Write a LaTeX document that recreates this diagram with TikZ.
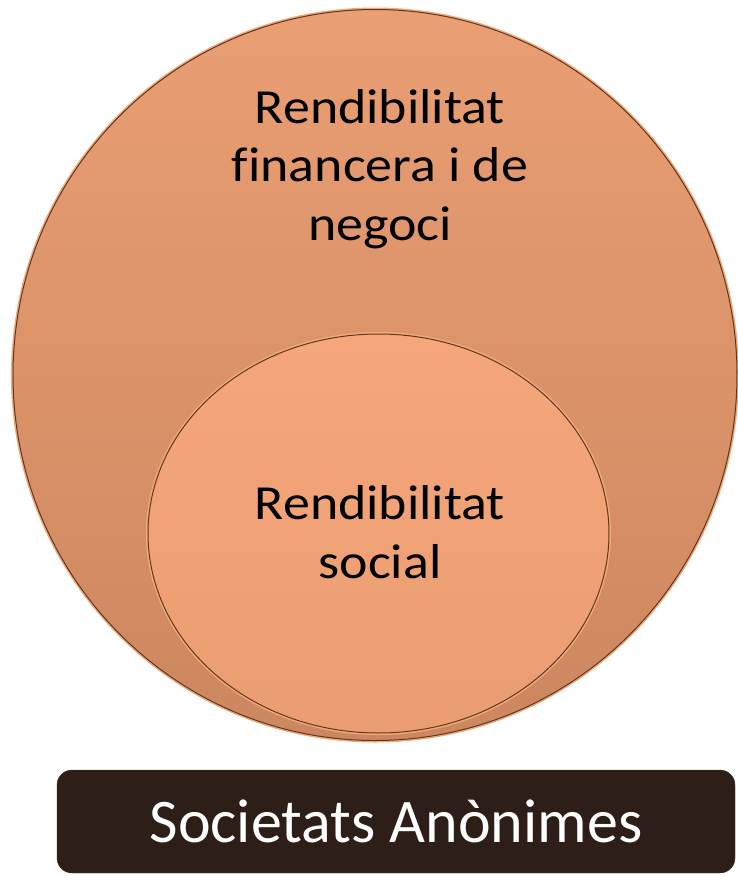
\documentclass[tikz,border=0pt]{standalone}
\usepackage{fontspec}
\newfontfamily\circfont[FakeStretch=1.1,Ligatures=NoCommon]{Carlito}
\newfontfamily\boxfont[Ligatures=NoCommon]{Carlito}
\usetikzlibrary{shapes.geometric,positioning}

\definecolor{outertop}{HTML}{EA9E73}
\definecolor{outerbot}{HTML}{CC8760}
\definecolor{innertop}{HTML}{F5A77B}
\definecolor{innerbot}{HTML}{EA9D71}
\definecolor{rimline}{HTML}{5E3722}
\definecolor{rimglow}{HTML}{F3A878}
\definecolor{boxfill}{HTML}{2D1F17}

\begin{document}
\begin{tikzpicture}[x=1pt,y=1pt,
  ring/.style={ellipse,inner sep=0pt,draw=rimline,line width=1pt,
    preaction={draw=rimglow,line width=4pt}},
  circtext/.style={align=center,font=\circfont\fontsize{49}{58.5}\selectfont,text=black},
  namebox/.style={rectangle,rounded corners=15pt,fill=boxfill,draw=boxfill!80!brown,
    text=white,font=\boxfont\fontsize{62}{70}\selectfont,inner sep=0pt}]

\useasboundingbox (0,0) rectangle (738,-876);

% the two circles
\node[ring,top color=outertop,bottom color=outerbot,
  minimum width=724pt,minimum height=731pt] (outer) at (375,-375) {};
\node[ring,top color=innertop,bottom color=innerbot,
  minimum width=461pt,minimum height=399pt] (inner) at (378.5,-533.5) {};

% base = last line
\node[circtext,anchor=base] (fin) at (380,-240) {Rendibilitat\\financera i de\\negoci};
\node[circtext,anchor=base] (soc) at (380,-578) {Rendibilitat\\social};

% label underneath
\node[namebox,minimum width=678pt,minimum height=103pt] (sa) at (396,-821.5) {Societats An\`onimes};

\end{tikzpicture}
\end{document}
